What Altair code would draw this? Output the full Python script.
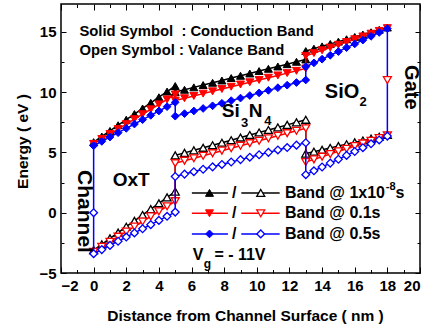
import altair as alt
import pandas as pd

FONT = "Liberation Sans"

# ---------------- data ----------------
x_oxt = [0.0, 0.5, 1.0, 1.5, 2.0, 2.5, 3.0, 3.5, 4.0, 4.5, 5.0]
x_nit = [5.0, 5.57, 6.14, 6.71, 7.29, 7.86, 8.43, 9.0, 9.57, 10.14, 10.71, 11.29, 11.86, 12.43, 13.0]
x_sio = [13.0, 13.5, 14.0, 14.5, 15.0, 15.5, 16.0, 16.5, 17.0, 17.5, 18.0]

channel_x, channel_y = 0.0, 0.0
gate_x, gate_y = 18.0, 11.0

# Band @ 1x10^-8 s
cb_a_oxt = [5.85, 6.32, 6.78, 7.25, 7.71, 8.18, 8.64, 9.11, 9.57, 10.04, 10.50]
cb_a_nit = [10.00, 10.19, 10.39, 10.58, 10.77, 10.96, 11.16, 11.35, 11.54, 11.74, 11.93, 12.12, 12.31, 12.51, 12.70]
cb_a_sio = [13.40, 13.60, 13.79, 13.99, 14.18, 14.38, 14.57, 14.77, 14.96, 15.16, 15.35]
vb_a_oxt = [-3.10, -2.62, -2.13, -1.65, -1.16, -0.68, -0.19, 0.30, 0.78, 1.27, 1.75]
vb_a_nit = [4.75, 4.96, 5.17, 5.38, 5.59, 5.80, 6.01, 6.23, 6.44, 6.65, 6.86, 7.07, 7.28, 7.49, 7.70]
vb_a_sio = [4.90, 5.06, 5.21, 5.37, 5.52, 5.68, 5.83, 5.99, 6.14, 6.30, 6.45]
# Band @ 0.1 s
cb_b_oxt = [5.70, 6.11, 6.52, 6.93, 7.34, 7.75, 8.16, 8.57, 8.98, 9.39, 9.80]
cb_b_nit = [9.30, 9.49, 9.68, 9.87, 10.06, 10.25, 10.44, 10.63, 10.81, 11.00, 11.19, 11.38, 11.57, 11.76, 11.95]
cb_b_sio = [13.00, 13.23, 13.46, 13.69, 13.92, 14.15, 14.38, 14.61, 14.84, 15.07, 15.30]
vb_b_oxt = [-3.25, -2.83, -2.41, -1.99, -1.57, -1.15, -0.73, -0.31, 0.11, 0.53, 0.95]
vb_b_nit = [4.10, 4.31, 4.51, 4.72, 4.93, 5.14, 5.34, 5.55, 5.76, 5.96, 6.17, 6.38, 6.59, 6.79, 7.00]
vb_b_sio = [4.20, 4.42, 4.64, 4.86, 5.08, 5.30, 5.52, 5.74, 5.96, 6.18, 6.40]
# Band @ 0.5 s
cb_c_oxt = [5.55, 5.91, 6.27, 6.63, 6.99, 7.35, 7.71, 8.07, 8.43, 8.79, 9.15]
cb_c_nit = [8.00, 8.21, 8.43, 8.64, 8.86, 9.07, 9.29, 9.50, 9.71, 9.93, 10.14, 10.36, 10.57, 10.79, 11.00]
cb_c_sio = [12.10, 12.42, 12.73, 13.05, 13.36, 13.68, 13.99, 14.31, 14.62, 14.94, 15.25]
vb_c_oxt = [-3.40, -3.06, -2.71, -2.37, -2.02, -1.68, -1.33, -0.99, -0.64, -0.30, 0.05]
vb_c_nit = [3.00, 3.20, 3.40, 3.60, 3.80, 4.00, 4.20, 4.40, 4.60, 4.80, 5.00, 5.20, 5.40, 5.60, 5.80]
vb_c_sio = [3.15, 3.47, 3.79, 4.11, 4.43, 4.75, 5.07, 5.39, 5.71, 6.03, 6.35]

series_labels = ["Band @ 1x10", "Band @ 0.1s", "Band @ 0.5s"]
series_colors = ["#000000", "#ff0000", "#0000ff"]
series_shapes = ["triangle-up", "triangle-down", "diamond"]
series_sizes = [64, 64, 60]

x_ticks_major = [-2, 0, 2, 4, 6, 8, 10, 12, 14, 16, 18, 20]
x_ticks_minor = [-1, 1, 3, 5, 7, 9, 11, 13, 15, 17, 19]
y_ticks_major = [-5, 0, 5, 10, 15]
y_ticks_minor = [-2.5, 2.5, 7.5, 12.5]

bands = {
    0: (cb_a_oxt, cb_a_nit, cb_a_sio, vb_a_oxt, vb_a_nit, vb_a_sio),
    1: (cb_b_oxt, cb_b_nit, cb_b_sio, vb_b_oxt, vb_b_nit, vb_b_sio),
    2: (cb_c_oxt, cb_c_nit, cb_c_sio, vb_c_oxt, vb_c_nit, vb_c_sio),
}
# only the last-drawn series (0.5 s) shows the vertical links to channel / gate
links_to_ends = [False, False, True]

xs = alt.Scale(domain=[-2, 20], nice=False, zero=False)
ys = alt.Scale(domain=[-5, 17.3], nice=False, zero=False)


def XE(axis=None):
    return alt.X("x:Q", scale=xs, axis=axis)


def YE(axis=None):
    return alt.Y("y:Q", scale=ys, axis=axis)


def band_frame(oxt, nit, sio):
    return x_oxt + x_nit + x_sio, oxt + nit + sio


layers = []

# ---------- axis layers (labels + inward ticks) ----------
axdf = pd.DataFrame({"x": [0.0], "y": [0.0]})
lab_kw = dict(labelFont=FONT, labelFontWeight="bold", labelFontSize=15, labelColor="black",
              titleFont=FONT, titleFontWeight="bold", titleFontSize=15.5, titleColor="black",
              domain=False, grid=False, ticks=False, tickSize=0)
layers.append(
    alt.Chart(axdf).mark_point(opacity=0).encode(
        x=XE(alt.Axis(orient="bottom", values=x_ticks_major, labelPadding=5,
                      title="Distance from Channel Surface ( nm )", titleX=184, titleY=42,
                      titleBaseline="middle", titleAlign="center", **lab_kw)),
        y=YE(alt.Axis(orient="left", values=y_ticks_major, labelPadding=5,
                      title="Energy ( eV )", titleX=-39, titleY=137, titleAngle=270,
                      titleBaseline="middle", titleAlign="center", **lab_kw)),
    )
)


def tick_axis(orient, values, size):
    return alt.Axis(orient=orient, values=values, offset=-size, tickSize=size, ticks=True,
                    labels=False, domain=False, grid=False, title=None,
                    tickColor="black", tickWidth=1)


for (ox, oy, xv, yv, xsz, ysz) in [
    ("bottom", "left", x_ticks_major, y_ticks_major, 6, 5),
    ("bottom", "left", x_ticks_minor, y_ticks_minor, 3.5, 3),
    ("top", "right", x_ticks_major, y_ticks_major, 6, 5),
    ("top", "right", x_ticks_minor, y_ticks_minor, 3.5, 3),
]:
    layers.append(
        alt.Chart(axdf).mark_point(opacity=0).encode(
            x=XE(tick_axis(ox, xv, xsz)), y=YE(tick_axis(oy, yv, ysz))
        )
    )

# ---------- band lines and markers ----------
for s in range(3):
    cbo, cbn, cbs, vbo, vbn, vbs = bands[s]
    color = series_colors[s]
    rows = []
    cx, cy = band_frame(cbo, cbn, cbs)
    vx, vy = band_frame(vbo, vbn, vbs)
    for band, bx, by in (("c", cx, cy), ("v", vx, vy)):
        if links_to_ends[s]:
            px = [channel_x] + bx + [gate_x]
            py = [channel_y] + by + [gate_y]
        else:
            px, py = bx, by
        for i, (a, b) in enumerate(zip(px, py)):
            rows.append({"x": a, "y": b, "band": band, "order": i})
    ldf = pd.DataFrame(rows)
    layers.append(
        alt.Chart(ldf).mark_line(color=color, strokeWidth=1.5).encode(
            x=XE(), y=YE(), detail="band:N", order="order:Q"
        )
    )
    cdf = pd.DataFrame({"x": cx, "y": cy})
    vdf = pd.DataFrame({"x": vx, "y": vy})
    layers.append(
        alt.Chart(cdf).mark_point(shape=series_shapes[s], filled=True, fill=color, stroke=color,
                                  strokeWidth=1, size=series_sizes[s], opacity=1).encode(x=XE(), y=YE())
    )
    layers.append(
        alt.Chart(vdf).mark_point(shape=series_shapes[s], filled=True, fill="white", stroke=color,
                                  strokeWidth=1.3, size=series_sizes[s], opacity=1).encode(x=XE(), y=YE())
    )

# channel and gate points
layers.append(
    alt.Chart(pd.DataFrame({"x": [channel_x], "y": [channel_y]})).mark_point(
        shape="diamond", filled=True, fill="white", stroke="#0000ff", strokeWidth=1.3, size=60, opacity=1
    ).encode(x=XE(), y=YE())
)
layers.append(
    alt.Chart(pd.DataFrame({"x": [gate_x], "y": [gate_y]})).mark_point(
        shape="triangle-down", filled=True, fill="white", stroke="#ff0000", strokeWidth=1.3, size=64, opacity=1
    ).encode(x=XE(), y=YE())
)

# ---------- legend (drawn in data coordinates) ----------
leg_y = [1.64, -0.05, -1.76]
leg_solid = (6.02, 8.23, 7.10)
leg_open = (9.05, 11.40, 10.24)
leg_slash_x = 8.62
leg_text_x = 11.72
for s in range(3):
    color = series_colors[s]
    lrows = [
        {"x": leg_solid[0], "y": leg_y[s], "seg": "a"},
        {"x": leg_solid[1], "y": leg_y[s], "seg": "a"},
        {"x": leg_open[0], "y": leg_y[s], "seg": "b"},
        {"x": leg_open[1], "y": leg_y[s], "seg": "b"},
    ]
    layers.append(
        alt.Chart(pd.DataFrame(lrows)).mark_line(color=color, strokeWidth=1.5).encode(
            x=XE(), y=YE(), detail="seg:N"
        )
    )
    layers.append(
        alt.Chart(pd.DataFrame({"x": [leg_solid[2]], "y": [leg_y[s]]})).mark_point(
            shape=series_shapes[s], filled=True, fill=color, stroke=color, strokeWidth=1,
            size=series_sizes[s], opacity=1).encode(x=XE(), y=YE())
    )
    layers.append(
        alt.Chart(pd.DataFrame({"x": [leg_open[2]], "y": [leg_y[s]]})).mark_point(
            shape=series_shapes[s], filled=True, fill="white", stroke=color, strokeWidth=1.3,
            size=series_sizes[s], opacity=1).encode(x=XE(), y=YE())
    )


def txt(t, x, y, size, align="left", baseline="middle", angle=0):
    return alt.Chart(pd.DataFrame({"x": [x], "y": [y], "t": [t]})).mark_text(
        font=FONT, fontWeight="bold", fontSize=size, align=align, baseline=baseline,
        angle=angle, color="black"
    ).encode(x=XE(), y=YE(), text="t:N")


for s in range(3):
    layers.append(txt("/", leg_slash_x, leg_y[s], 16, align="center"))
    layers.append(txt(series_labels[s], leg_text_x, leg_y[s], 16))
layers.append(txt("-8", 17.90, 2.14, 11))
layers.append(txt("s", 18.50, leg_y[0], 16))

# ---------- annotations ----------
layers.append(txt("Solid Symbol\u00a0 : Conduction Band", -0.87, 15.0, 14.8))
layers.append(txt("Open Symbol : Valance Band", -0.87, 13.42, 14.8))
layers.append(txt("OxT", 2.3, 2.72, 19, align="center"))
layers.append(txt("Si", 7.85, 8.39, 19))
layers.append(txt("3", 9.25, 7.40, 13, align="center"))
layers.append(txt("N", 9.50, 8.39, 19))
layers.append(txt("4", 10.68, 7.60, 13, align="center"))
layers.append(txt("SiO", 14.17, 10.02, 20))
layers.append(txt("2", 16.52, 9.15, 13, align="center"))
layers.append(txt("Gate", 19.42, 10.39, 20, align="center", angle=90))
layers.append(txt("Channel", -0.56, 0.10, 21, align="center", angle=90))
layers.append(txt("V", 6.08, -3.51, 16))
layers.append(txt("g", 6.98, -4.25, 12, align="center"))
layers.append(txt("= - 11V", 7.40, -3.51, 16))

chart = (
    alt.layer(*layers)
    .resolve_axis(x="independent", y="independent")
    .properties(
        width=359, height=269,
        padding={"left": 61, "top": 4, "right": 8, "bottom": 57},
        autosize=alt.AutoSizeParams(type="none"),
        background="white",
    )
    .configure_view(stroke="black", strokeWidth=1.5)
)

chart.save("out.html", embed_options={"renderer": "svg", "actions": False})
